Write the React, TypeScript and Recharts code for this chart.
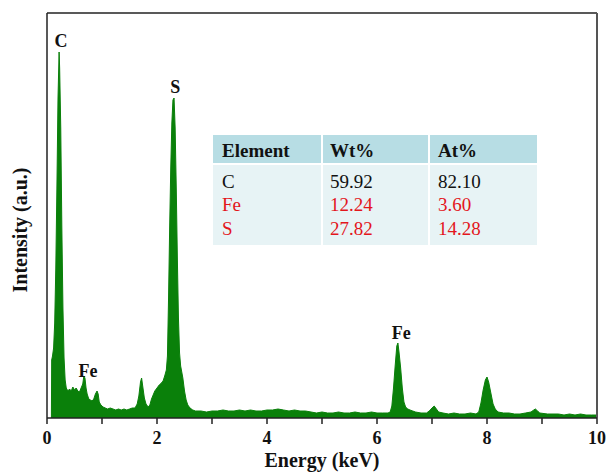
import React from 'react';
import { AreaChart, Area, XAxis, YAxis, ReferenceDot, ReferenceLine } from 'recharts';

// Energy (keV) and intensity (a.u., arbitrary scale 0..405)
const energy = [
  0.08, 0.085, 0.1, 0.12, 0.14, 0.16, 0.18, 0.2, 0.22, 0.23, 0.25, 0.27, 0.29, 0.31, 0.33, 0.35,
  0.38, 0.41, 0.44, 0.47, 0.5, 0.53, 0.56, 0.59, 0.62, 0.65, 0.67, 0.69, 0.71, 0.73, 0.76, 0.79,
  0.82, 0.85, 0.88, 0.91, 0.93, 0.95, 0.98, 1.02, 1.06, 1.1, 1.15, 1.2, 1.25, 1.3, 1.35, 1.4,
  1.45, 1.5, 1.55, 1.6, 1.64, 1.67, 1.7, 1.72, 1.74, 1.77, 1.8, 1.84, 1.87, 1.9, 1.93, 1.96,
  2.0, 2.04, 2.08, 2.11, 2.14, 2.17, 2.19, 2.21, 2.23, 2.25, 2.27, 2.29, 2.31, 2.33, 2.35, 2.37,
  2.39, 2.41, 2.43, 2.45, 2.47, 2.5, 2.53, 2.56, 2.6, 2.65, 2.7, 2.8, 2.9, 3.0, 3.1, 3.2,
  3.3, 3.4, 3.5, 3.6, 3.7, 3.8, 3.9, 4.0, 4.1, 4.2, 4.3, 4.4, 4.5, 4.6, 4.7, 4.8,
  4.9, 5.0, 5.1, 5.2, 5.3, 5.4, 5.5, 5.6, 5.7, 5.8, 5.9, 6.0, 6.1, 6.2, 6.24, 6.27,
  6.3, 6.33, 6.36, 6.38, 6.4, 6.43, 6.46, 6.49, 6.52, 6.56, 6.6, 6.65, 6.7, 6.8, 6.9, 6.95,
  7.0, 7.04, 7.08, 7.12, 7.2, 7.3, 7.4, 7.5, 7.6, 7.7, 7.8, 7.85, 7.89, 7.93, 7.97, 8.0,
  8.03, 8.07, 8.11, 8.15, 8.2, 8.3, 8.4, 8.5, 8.6, 8.7, 8.8, 8.85, 8.88, 8.92, 8.96, 9.1,
  9.2, 9.3, 9.4, 9.5, 9.6, 9.7, 9.8, 9.9, 10.0,
];
const intensity = [
  0, 58, 62, 70, 95, 150, 230, 320, 366, 350, 290, 190, 110, 60, 38, 30,
  27, 29, 27, 31, 28, 30, 27, 26, 30, 34, 42, 40, 30, 24, 19, 18,
  17, 19, 24, 27, 24, 16, 13, 11, 10, 9, 10, 9, 8, 9, 8, 9,
  8, 9, 10, 10, 14, 22, 36, 40, 32, 20, 14, 11, 13, 19, 23, 27,
  30, 33, 35, 37, 42, 48, 62, 120, 190, 250, 295, 318, 320, 290, 230, 160,
  100, 65, 52, 46, 40, 27, 18, 13, 10, 8, 7, 7, 6, 7, 7, 8,
  7, 7, 8, 7, 8, 7, 7, 8, 8, 9, 8, 7, 8, 7, 7, 6,
  5, 6, 5, 5, 6, 5, 5, 6, 5, 5, 6, 5, 5, 5, 6, 12,
  30, 52, 72, 75, 66, 50, 30, 16, 11, 9, 8, 7, 6, 5, 5, 7,
  10, 12, 9, 6, 5, 4, 5, 4, 4, 5, 4, 6, 15, 28, 38, 41,
  36, 25, 14, 9, 6, 5, 5, 4, 4, 5, 6, 8, 9, 7, 5, 4,
  4, 4, 3, 4, 3, 4, 3, 3, 3,
];

const xTicks = [0, 1, 2, 3, 4, 5, 6, 7, 8, 9, 10];

const peakNames = ['C', 'S', 'Fe', 'Fe'];
const peakEnergies = [0.255, 2.33, 0.745, 6.44];
const peakHeights = [366, 320, 36, 74];

const tableHeader = ['Element', 'Wt%', 'At%'];
const elements = ['C', 'Fe', 'S'];
const wtPercent = [59.92, 12.24, 27.82];
const atPercent = [82.1, 3.6, 14.28];
const rowColors = ['#111111', '#e3161c', '#e3161c'];

const data = energy.map((e, i) => ({ e, v: intensity[i] }));

const FONT = '"Liberation Serif", "Times New Roman", serif';

const colX = [213, 323, 430];
const colW = [108, 105, 107];
const textX = [222, 330, 438];
const rowBase = [188, 211, 235];

export default function App() {
  return (
    <div style={{ position: 'absolute', left: 0, top: 0, width: 610, height: 475, background: '#fff' }}>
      <AreaChart width={610} height={475} data={data} margin={{ top: 13, right: 13, bottom: 0, left: 0 }}>
        <XAxis
          dataKey="e"
          type="number"
          domain={[0, 10]}
          ticks={xTicks}
          tickFormatter={(v: number) => (v % 2 === 0 ? String(v) : '')}
          height={57}
          tickSize={6}
          tickMargin={7}
          tickLine={{ stroke: '#222', strokeWidth: 1.5 }}
          axisLine={{ stroke: '#222', strokeWidth: 1.5 }}
          tick={{ fill: '#111', fontSize: 18, fontWeight: 700, fontFamily: FONT }}
          interval={0}
          label={{
            value: 'Energy (keV)',
            position: 'insideBottom',
            offset: 8,
            fill: '#111',
            fontSize: 20,
            fontWeight: 700,
            fontFamily: FONT,
          }}
        />
        <YAxis
          type="number"
          domain={[0, 405]}
          width={47}
          tick={false}
          tickLine={false}
          axisLine={{ stroke: '#222', strokeWidth: 1.5 }}
          label={{
            content: () => (
              <text
                x={27}
                y={230}
                transform="rotate(-90 27 230)"
                textAnchor="middle"
                fill="#111"
                fontSize={20}
                fontWeight={700}
                fontFamily={FONT}
              >
                Intensity (a.u.)
              </text>
            ),
          }}
        />
        <ReferenceLine y={405} stroke="#222" strokeWidth={1.5} />
        <ReferenceLine x={10} stroke="#555" strokeWidth={2} />
        <Area
          type="linear"
          dataKey="v"
          stroke="#0a800a"
          strokeWidth={1}
          fill="#0a800a"
          fillOpacity={1}
          isAnimationActive={false}
          dot={false}
          activeDot={false}
        />
        {peakNames.map((n, i) => (
          <ReferenceDot
            key={i}
            x={peakEnergies[i]}
            y={peakHeights[i]}
            r={0}
            fill="none"
            stroke="none"
            label={{
              value: n,
              position: 'top',
              offset: 5,
              fill: '#111',
              fontSize: 18,
              fontWeight: 700,
              fontFamily: FONT,
            }}
          />
        ))}
      </AreaChart>
      <svg width={610} height={475} style={{ position: 'absolute', left: 0, top: 0, pointerEvents: 'none' }}>
        {colX.map((x, i) => (
          <rect key={'h' + i} x={x} y={135} width={colW[i]} height={28} fill="#b7dde4" />
        ))}
        {colX.map((x, i) => (
          <rect key={'b' + i} x={x} y={165} width={colW[i]} height={80} fill="#e7f3f5" />
        ))}
        {tableHeader.map((h, i) => (
          <text key={'ht' + i} x={textX[i]} y={157} fontSize={19} fontWeight={700} fontFamily={FONT} fill="#111">
            {h}
          </text>
        ))}
        {elements.map((el, r) => (
          <g key={'r' + r} fill={rowColors[r]} fontSize={19} fontFamily={FONT}>
            <text x={textX[0]} y={rowBase[r]}>{el}</text>
            <text x={textX[1]} y={rowBase[r]}>{wtPercent[r].toFixed(2)}</text>
            <text x={textX[2]} y={rowBase[r]}>{atPercent[r].toFixed(2)}</text>
          </g>
        ))}
      </svg>
    </div>
  );
}
